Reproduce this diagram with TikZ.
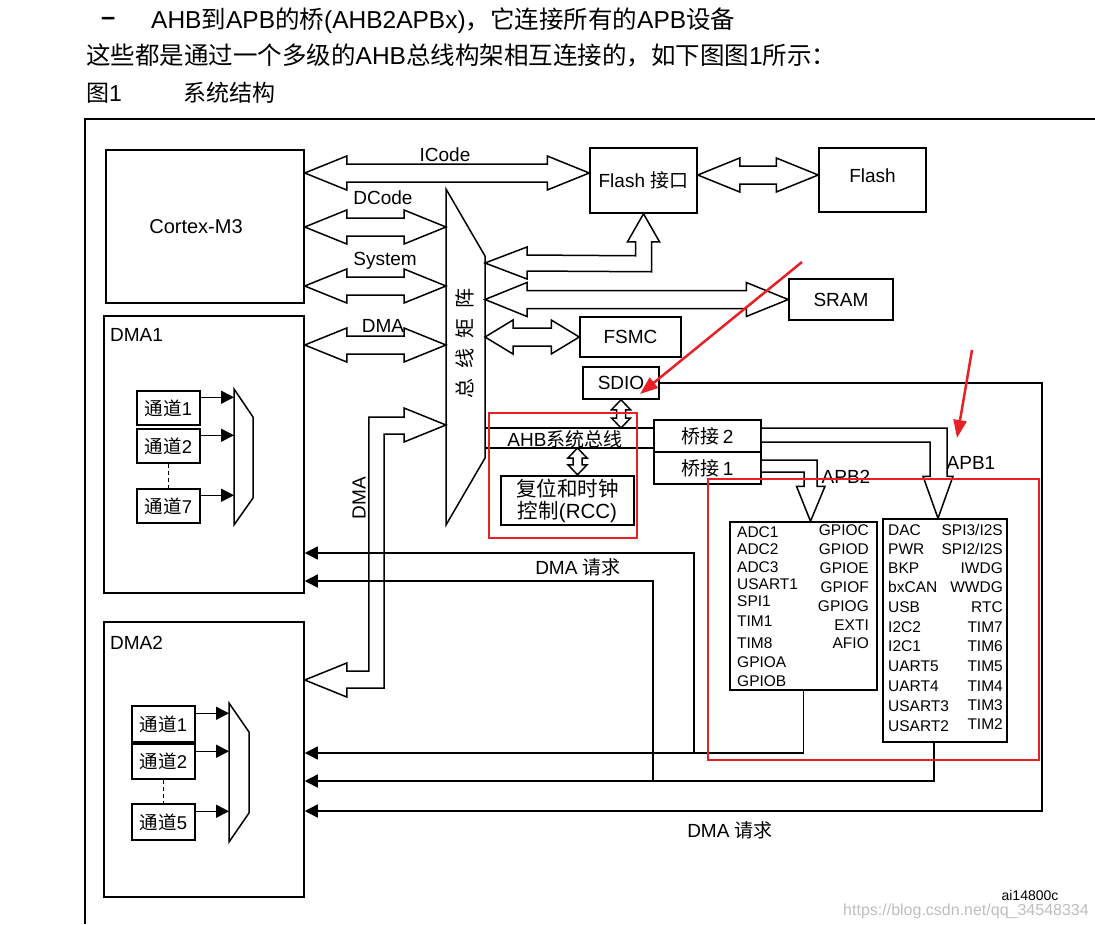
\documentclass[tikz,border=0pt]{standalone}
\usepackage{fontspec}
\setmainfont{Liberation Sans}
\newfontfamily\cjk{Noto Sans CJK SC}
\usetikzlibrary{calc,arrows.meta}

\definecolor{annot}{RGB}{232,32,38}
\definecolor{wmgray}{RGB}{190,190,190}

\newcommand{\hbus}[3][42]{%
  \draw[bus] (#2) -- ++(#1,-17) -- ++(0,8) -- ($(#3)+(-#1,-9)$) -- ++(0,-8) -- (#3)
    -- ++(-#1,17) -- ++(0,-8) -- ($(#2)+(#1,9)$) -- ++(0,8) -- cycle;}
\newcommand{\vbus}[2]{%
  \draw[bus] (#1) -- ++(9.5,10) -- ++(-5,0) -- ($(#2)+(4.5,-10)$) -- ++(5,0) -- (#2)
    -- ++(-9.5,-10) -- ++(5,0) -- ($(#1)+(-4.5,10)$) -- ++(-5,0) -- cycle;}

\begin{document}
\begin{tikzpicture}[x=1pt,y=-1pt,
  box/.style={draw, line width=1.5pt, inner sep=0pt},
  bus/.style={draw, line width=1.5pt, fill=white, line join=miter},
  wire/.style={line width=1.5pt},
  sig/.style={wire, -{Triangle[length=13pt,width=13pt]}},
  lbl/.style={font=\fontsize{19}{22}\selectfont},
  lst/.style={font=\fontsize{15.5}{18}\selectfont, inner sep=0pt},
  hdr/.style={font=\fontsize{24.5}{26}\selectfont, inner sep=0pt, anchor=west},
  chanbox/.style={box, minimum width=63, font=\fontsize{18.5}{20}\selectfont},
  redmark/.style={draw=annot, line width=2pt},
  redarrow/.style={draw=annot, line width=2.5pt, -{Triangle[length=18pt,width=13pt]}}]
\useasboundingbox (0,0) rectangle (1095,924);

\node[hdr, font=\fontsize{25.5}{26}\selectfont\bfseries] (dash) at (101,21) {–};
\node[hdr] (head1) at (151,21) {AHB{\cjk 到}APB{\cjk 的桥}(AHB2APBx){\cjk ，它连接所有的}APB{\cjk 设备}};
\node[hdr] (head2) at (86,55) {{\cjk 这些都是通过一个多级的}AHB{\cjk 总线构架相互连接的，如下图图}1{\cjk 所示：}};
\node[hdr, font=\fontsize{23}{24}\selectfont] (fignum) at (86,93) {{\cjk 图}1};
\node[hdr, font=\fontsize{23}{24}\selectfont] (figname) at (183,93) {{\cjk 系统结构}};
\draw[wire] (85,924) -- (85,119) -- (1095,119);

\node[box, minimum width=198, minimum height=153] (cm3) at (205,226.5) {};
\node[lbl, font=\fontsize{20}{22}\selectfont] (cm3t) at (196,227) {Cortex-M3};
\node[box, minimum width=200, minimum height=277] (dma1) at (204,454.5) {};
\node[lbl, anchor=west, inner sep=0pt] (dma1t) at (110,335) {DMA1};
\node[box, minimum width=200, minimum height=275] (dma2) at (204,759.5) {};
\node[lbl, anchor=west, inner sep=0pt] (dma2t) at (110,643) {DMA2};

\node[box, minimum width=107, minimum height=65, lbl] (flashif) at (643.5,180.5) {Flash {\cjk 接口}};
\node[box, minimum width=107, minimum height=64] (flash) at (872.5,180) {};
\node[lbl] (flasht) at (872.5,176) {Flash};
\node[box, minimum width=104, minimum height=41, lbl] (sram) at (841,299.5) {SRAM};
\node[box, minimum width=101, minimum height=40, lbl] (fsmc) at (630.5,337) {FSMC};
\node[box, minimum width=76, minimum height=32, lbl] (sdio) at (621,383) {SDIO};
\node[box, minimum width=107, minimum height=32, lbl] (br2) at (707.5,436) {{\cjk 桥接}\,2};
\node[box, minimum width=107, minimum height=32, lbl] (br1) at (707.5,468) {{\cjk 桥接}\,1};
\node[box, line width=2.4pt, minimum width=133, minimum height=49, align=center, font=\fontsize{20.5}{22}\selectfont] (rcc) at (567.5,500.5) {{\cjk 复位和时钟}\\{\cjk 控制}(RCC)};

\node[box, minimum width=147, minimum height=168] (apb2) at (803.5,606) {};
\node[box, minimum width=124, minimum height=223] (apb1) at (945,630.5) {};
\foreach \t/\y [count=\i] in {ADC1/532, ADC2/549, ADC3/567, USART1/584, SPI1/601, TIM1/621, TIM8/643, GPIOA/662, GPIOB/681}
  \node[lst, anchor=west] (apb2l\i) at (737,\y) {\t};
\foreach \t/\y [count=\i] in {GPIOC/530, GPIOD/549, GPIOE/568, GPIOF/587, GPIOG/606, EXTI/625, AFIO/643}
  \node[lst, anchor=east] (apb2r\i) at (869,\y) {\t};
\foreach \t/\y [count=\i] in {DAC/530, PWR/549, BKP/568, bxCAN/587, USB/607, I2C2/627, I2C1/646, UART5/666, UART4/686, USART3/706, USART2/726}
  \node[lst, anchor=west] (apb1l\i) at (888,\y) {\t};
\foreach \t/\y [count=\i] in {{SPI3/I2S}/530, {SPI2/I2S}/549, IWDG/568, WWDG/587, RTC/607, TIM7/627, TIM6/646, TIM5/666, TIM4/686, TIM3/705, TIM2/724}
  \node[lst, anchor=east] (apb1r\i) at (1003,\y) {\t};

\node[chanbox, minimum height=34] (d1c1) at (168.5,408) {{\cjk 通道}1};
\node[chanbox, minimum height=34] (d1c2) at (168.5,446) {{\cjk 通道}2};
\node[chanbox, minimum height=34] (d1c7) at (168.5,506) {{\cjk 通道}7};
\node[chanbox, minimum height=36] (d2c1) at (163.5,724) {{\cjk 通道}1};
\node[chanbox, minimum height=35] (d2c2) at (163.5,761.5) {{\cjk 通道}2};
\node[chanbox, minimum height=36] (d2c5) at (163.5,822) {{\cjk 通道}5};
\draw[line width=1.2pt, dash pattern=on 4pt off 3pt] (d1c2.south) -- (d1c7.north);
\draw[line width=1.2pt, dash pattern=on 4pt off 3pt] (d2c2.south) -- (d2c5.north);

\draw[wire] (234,389) -- (253,417) -- (253,498) -- (234,525) -- cycle;
\coordinate (mux1) at (234,457);
\draw[wire] (229,703) -- (249,732) -- (249,813) -- (229,842) -- cycle;
\coordinate (mux2) at (229,772);
\foreach \c in {d1c1,d1c2,d1c7}
  \draw[sig] ($(\c.north east)+(0,7)$) coordinate (p) -- (p -| mux1);
\foreach \c in {d2c1,d2c2,d2c5}
  \draw[sig] ($(\c.north east)+(0,8)$) coordinate (p) -- (p -| mux2);

\draw[wire] (446,189) -- (485,256) -- (485,458) -- (446,525) -- cycle;
\coordinate (bmw) at (446,357);
\coordinate (bme) at (485,357);
\node[lbl, rotate=90, font=\fontsize{20}{22}\selectfont] (bmt) at (465,343) {{\cjk 总\hspace{10pt}线\hspace{10pt}矩\hspace{10pt}阵}};

\hbus{cm3.east |- 0,173}{flashif.west |- 0,173}
\node[lbl] (icode) at (445,155) {ICode};
\hbus{cm3.east |- 0,227}{bmw |- 0,227}
\node[lbl] (dcode) at (383,198) {DCode};
\hbus{cm3.east |- 0,286}{bmw |- 0,286}
\node[lbl] (sysl) at (385,261) {System};
\hbus{dma1.east |- 0,345}{bmw |- 0,345}
\node[lbl] (dmal) at (383,326) {DMA};
\hbus{flashif.east |- 0,175}{flash.west |- 0,175}
\hbus{bme |- sram.west}{sram.west}
\hbus[28]{bme |- fsmc.west}{fsmc.west}

\draw[bus] (bme |- 0,263) -- ++(42,-16) -- ++(0,8) -- ($(flashif.south)+(-8,42)$) -- ++(0,-14) -- ++(-8,0)
  -- (flashif.south) -- ++(16,28) -- ++(-8,0) -- ++(0,30) -- ($(bme |- 0,263)+(42,8)$) -- ++(0,8) -- cycle;

\draw[bus] (dma2.east |- 0,680) -- ++(42,-17) -- ++(0,8) -- ++(22,0) |- ($(bmw |- 0,425)+(-42,-8)$) -- ++(0,-9)
  -- (bmw |- 0,425) -- ++(-42,17) -- ++(0,-8) -- ++(-20,0) |- ($(dma2.east |- 0,680)+(42,8)$) -- ++(0,9) -- cycle;
\node[lbl, rotate=90] (dmav) at (359,498) {DMA};

\coordinate (ahbt) at (bme |- 0,428);
\coordinate (ahbb) at (bme |- 0,448);
\draw[wire] (ahbt) -- (br2.west |- ahbt);
\draw[wire] (ahbb) -- (br2.west |- ahbb);
\node[lbl, inner sep=0pt] (ahb) at (565,439) {AHB{\cjk 系统总线}};
\vbus{sdio.south}{sdio.south |- ahbt}
\coordinate (rccp) at ($(rcc.north)+(10,0)$);
\vbus{rccp |- ahbb}{rccp}

\coordinate (apb1tip) at ($(apb1.north)+(-7,0)$);
\draw[bus] (br2.east |- 0,428) -| ($(apb1tip)+(9,-42)$) -- ++(6,0) -- (apb1tip) -- ++(-15,-42) -- ++(7,0) |- (br2.east |- 0,442);
\coordinate (apb2tip) at ($(apb2.north)+(7,0)$);
\draw[bus] (br1.east |- 0,460) -| ($(apb2tip)+(6.5,-35)$) -- ++(8,0) -- (apb2tip) -- ++(-14,-35) -- ++(7.5,0) |- (br1.east |- 0,472);
\node[lbl] (apb2lbl) at (846,477) {APB2};
\node[lbl] (apb1lbl) at (971,463) {APB1};

\draw[sig] (apb2.south) |- (dma2.east |- 0,753);
\coordinate (j1) at (694,753);
\draw[sig] (j1) |- (dma1.east |- 0,553);
\coordinate (apb1out) at ($(apb1.south)+(-11,0)$);
\draw[sig] (apb1out) |- (dma2.east |- 0,781);
\coordinate (j2) at (653,781);
\draw[sig] (j2) |- (dma1.east |- 0,581);
\coordinate (sdturn) at (1042,811);
\draw[sig] (sdio.east) -| (sdturn) -- (dma2.east |- sdturn);
\node[lbl] (req1) at (578,567) {DMA {\cjk 请求}};
\node[lbl] (req2) at (730,830) {DMA {\cjk 请求}};

\draw[redmark] (489,413) rectangle (637,538);
\draw[redmark] (708,479) rectangle (1039,760);
\coordinate (ra1) at (802,262);
\coordinate (ra1t) at (640,394);
\draw[redarrow] (ra1) -- (ra1t);
\coordinate (ra2) at (972,350);
\coordinate (ra2t) at (957,438);
\draw[redarrow] (ra2) -- (ra2t);

\node[font=\fontsize{14}{16}\selectfont, inner sep=0pt] (ai) at (1030,895) {ai14800c};
\node[font=\fontsize{16}{18}\selectfont, text=wmgray, inner sep=0pt] (wm) at (966,911) {https://blog.csdn.net/qq\_34548334};
\end{tikzpicture}
\end{document}
